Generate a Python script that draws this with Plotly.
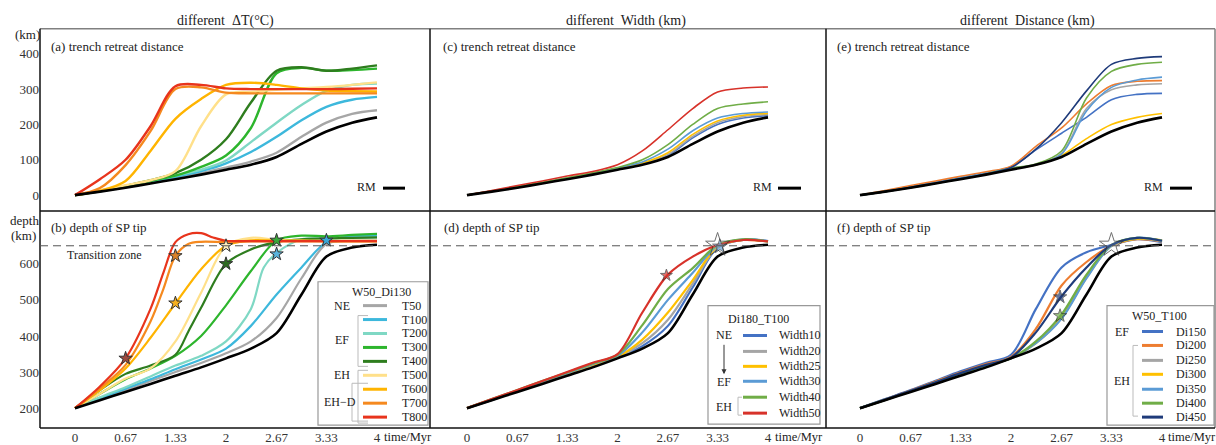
import plotly.graph_objects as go

W, H = 1216, 445
FONT = "'Liberation Serif', 'Times New Roman', 'DejaVu Serif', serif"

# ---------------- data ----------------
T = [0, 0.33, 0.67, 1, 1.33, 1.67, 2, 2.33, 2.67, 3, 3.33, 3.67, 4]

# reference model (black)
rm_retreat = [0, 10, 21, 33, 45, 58, 72, 86, 108, 145, 180, 205, 220]
rm_depth = [200, 222, 245, 267, 290, 313, 338, 365, 408, 515, 620, 645, 653]

# (a) trench retreat, different dT
dT_names = ["T50", "T100", "T200", "T300", "T400", "T500", "T600", "T700", "T800"]
dT_colors = ["#a6a6a6", "#3db8dc", "#7fd8c4", "#2db52d", "#2e7d1e",
             "#ffe08a", "#ffb400", "#f5891f", "#e8341c"]
a_T50 = [0, 11, 23, 36, 49, 62, 78, 95, 120, 165, 205, 230, 240]
a_T100 = [0, 11, 24, 38, 52, 68, 90, 122, 165, 212, 250, 270, 278]
a_T200 = [0, 12, 25, 40, 55, 72, 98, 150, 205, 255, 295, 312, 316]
a_T300 = [0, 12, 26, 40, 55, 80, 112, 190, 345, 360, 352, 354, 358]
a_T400 = [0, 12, 26, 42, 62, 100, 158, 262, 352, 362, 352, 358, 367]
a_T500 = [0, 14, 28, 42, 68, 195, 285, 292, 298, 302, 306, 312, 319]
a_T600 = [0, 12, 40, 125, 216, 272, 312, 318, 312, 302, 296, 294, 293]
a_T700 = [0, 20, 85, 181, 300, 305, 290, 288, 288, 288, 288, 288, 288]
a_T800 = [0, 45, 100, 195, 308, 312, 302, 300, 300, 300, 300, 301, 302]
a_series = [a_T50, a_T100, a_T200, a_T300, a_T400, a_T500, a_T600, a_T700, a_T800]

# (b) depth of SP tip, different dT
b_T50 = [200, 225, 250, 275, 300, 325, 352, 385, 450, 560, 655, 664, 665]
b_T100 = [200, 227, 254, 280, 308, 335, 365, 428, 515, 590, 660, 676, 677]
t_T200 = [0, 0.33, 0.67, 1, 1.33, 1.67, 2, 2.33, 2.5, 2.67, 3, 3.33, 3.67, 4]
b_T200 = [200, 230, 258, 288, 318, 345, 385, 475, 590, 630, 668, 670, 672, 673]
b_T300 = [200, 240, 280, 310, 345, 400, 485, 580, 665, 678, 676, 680, 683]
t_T400 = [0, 0.33, 0.67, 1, 1.33, 1.5, 1.67, 2, 2.33, 2.67, 3, 3.33, 3.67, 4]
b_T400 = [200, 250, 295, 318, 348, 412, 478, 600, 640, 660, 668, 670, 672, 673]
b_T500 = [200, 240, 282, 310, 385, 520, 650, 672, 666, 664, 664, 664, 664]
b_T600 = [200, 250, 310, 395, 490, 585, 650, 665, 664, 664, 663, 663, 663]
t_T700 = [0, 0.33, 0.67, 1, 1.17, 1.33, 1.5, 1.67, 2, 2.33, 2.67, 3, 3.33, 3.67, 4]
b_T700 = [200, 255, 320, 440, 530, 622, 655, 661, 660, 662, 662, 662, 662, 662, 662]
t_T800 = [0, 0.33, 0.67, 1, 1.17, 1.33, 1.5, 1.67, 1.83, 2, 2.33, 2.67, 3, 3.33, 3.67, 4]
b_T800 = [200, 260, 338, 475, 575, 660, 682, 685, 673, 664, 663, 663, 663, 663, 663, 663]
b_times = [T, T, t_T200, T, t_T400, T, T, t_T700, t_T800]
b_series = [b_T50, b_T100, b_T200, b_T300, b_T400, b_T500, b_T600, b_T700, b_T800]
b_star_t = [0.67, 1.33, 1.33, 2, 2, 2.67, 2.67, 3.33]
b_star_d = [338, 622, 491, 650, 600, 665, 627, 665]
b_star_c = ["#9a4a40", "#d9822a", "#f5b020", "#fff0c0", "#2e6b22", "#3aa83a", "#5ab4dc", "#3aa8d8"]

# (c)/(d) different Width
w_names = ["Width10", "Width20", "Width25", "Width30", "Width40", "Width50"]
w_colors = ["#4472c4", "#a5a5a5", "#ffc000", "#5b9bd5", "#70ad47", "#d7322a"]
c_W10 = [0, 11, 22, 34, 46, 60, 75, 88, 112, 162, 200, 218, 225]
c_W20 = [0, 11, 22, 34, 46, 60, 75, 89, 115, 166, 205, 222, 228]
c_W25 = [0, 11, 23, 35, 47, 61, 76, 91, 120, 172, 210, 226, 231]
c_W30 = [0, 11, 23, 35, 48, 62, 77, 94, 130, 182, 218, 231, 235]
c_W40 = [0, 12, 24, 36, 49, 63, 78, 100, 143, 200, 245, 258, 264]
c_W50 = [0, 13, 27, 40, 54, 67, 86, 125, 185, 245, 292, 303, 306]
c_series = [c_W10, c_W20, c_W25, c_W30, c_W40, c_W50]
d_W10 = [200, 223, 247, 270, 294, 318, 340, 372, 428, 535, 645, 666, 663]
d_W20 = [200, 223, 248, 271, 295, 319, 341, 380, 445, 545, 646, 666, 662]
d_W25 = [200, 224, 248, 272, 296, 320, 342, 390, 465, 555, 648, 666, 662]
d_W30 = [200, 224, 249, 273, 297, 322, 345, 410, 500, 575, 650, 668, 663]
d_W40 = [200, 225, 250, 275, 299, 324, 348, 430, 530, 588, 652, 668, 662]
d_W50 = [200, 225, 250, 275, 300, 326, 350, 465, 570, 620, 652, 666, 662]
d_series = [d_W10, d_W20, d_W25, d_W30, d_W40, d_W50]
d_star_t = [2.65, 3.36, 3.33]
d_star_d = [568, 648, 652]

# (e)/(f) different Distance
di_names = ["Di150", "Di200", "Di250", "Di300", "Di350", "Di400", "Di450"]
di_colors = ["#4472c4", "#ed7d31", "#a5a5a5", "#ffc000", "#5b9bd5", "#70ad47", "#1f3b7a"]
e_Di150 = [0, 11, 24, 37, 50, 63, 80, 128, 175, 220, 270, 285, 288]
e_Di200 = [0, 13, 27, 40, 53, 66, 82, 138, 190, 258, 310, 322, 324]
e_Di250 = [0, 10, 22, 35, 48, 61, 76, 86, 118, 245, 298, 312, 315]
e_Di300 = [0, 10, 22, 34, 47, 60, 75, 85, 112, 160, 200, 220, 231]
e_Di350 = [0, 10, 22, 35, 48, 61, 76, 86, 116, 238, 305, 326, 334]
e_Di400 = [0, 10, 21, 33, 46, 60, 76, 88, 125, 275, 350, 370, 376]
e_Di450 = [0, 10, 22, 34, 47, 60, 78, 130, 205, 295, 370, 387, 392]
e_series = [e_Di150, e_Di200, e_Di250, e_Di300, e_Di350, e_Di400, e_Di450]
f_Di150 = [200, 225, 250, 276, 302, 326, 348, 475, 590, 632, 652, 668, 660]
f_Di200 = [200, 224, 249, 274, 299, 322, 342, 420, 540, 605, 650, 668, 662]
f_Di250 = [200, 223, 247, 271, 295, 318, 338, 382, 452, 565, 650, 670, 663]
f_Di300 = [200, 223, 247, 271, 295, 318, 338, 380, 450, 562, 650, 670, 665]
f_Di350 = [200, 223, 247, 271, 295, 318, 338, 380, 448, 560, 650, 672, 664]
f_Di400 = [200, 223, 247, 271, 295, 318, 338, 385, 460, 570, 652, 672, 664]
f_Di450 = [200, 224, 248, 272, 297, 320, 340, 410, 510, 590, 652, 672, 664]
f_series = [f_Di150, f_Di200, f_Di250, f_Di300, f_Di350, f_Di400, f_Di450]
f_star_t = [2.65, 2.65, 3.33]
f_star_d = [508, 456, 652]

x_ticks = [0, 0.67, 1.33, 2, 2.67, 3.33, 4]
x_ticktext = ["0", "0.67", "1.33", "2", "2.67", "3.33", "4"]
ya_ticks = [0, 100, 200, 300, 400]
yb_ticks = [200, 300, 400, 500, 600]
transition_depth = 650

# ---------------- layout helpers ----------------
def px(x):
    return x / W

def py(y):
    return 1 - y / H

fig = go.Figure()

def line(ax, t, v, color, width, name=""):
    fig.add_trace(go.Scatter(x=t, y=v, mode="lines", name=name, showlegend=False,
                             xaxis="x" + ("" if ax == 1 else str(ax)),
                             yaxis="y" + ("" if ax == 1 else str(ax)),
                             line=dict(color=color, width=width, shape="spline", smoothing=0.9),
                             hoverinfo="skip"))

def stars(ax, t, v, colors, size):
    fig.add_trace(go.Scatter(x=t, y=v, mode="markers", showlegend=False,
                             xaxis="x" + str(ax), yaxis="y" + str(ax),
                             marker=dict(symbol="star", size=size, color=colors,
                                         line=dict(color="#333333", width=1)),
                             hoverinfo="skip"))

# panel a (1), c (2), e (3) ; b (4), d (5), f (6)
for s, c in zip(a_series, dT_colors):
    line(1, T, s, c, 2.4)
line(1, T, rm_retreat, "#000000", 2.6)
for tt, s, c in zip(b_times, b_series, dT_colors):
    line(4, tt, s, c, 2.2)
line(4, T, rm_depth, "#000000", 2.6)
stars(4, b_star_t, b_star_d, b_star_c, 10)

for s, c in zip(c_series, w_colors):
    line(2, T, s, c, 1.6)
line(2, T, rm_retreat, "#000000", 2.6)
for s, c in zip(d_series, w_colors):
    line(5, T, s, c, 2.2)
line(5, T, rm_depth, "#000000", 2.6)
stars(5, d_star_t, d_star_d, ["#d7322a", "#5b9bd5", "rgba(255,255,255,0.15)"], [9, 11, 18])

for s, c in zip(e_series, di_colors):
    line(3, T, s, c, 1.6)
line(3, T, rm_retreat, "#000000", 2.6)
for s, c in zip(f_series, di_colors):
    line(6, T, s, c, 2.2)
line(6, T, rm_depth, "#000000", 2.6)
stars(6, f_star_t, f_star_d, ["#1f3b7a", "#70ad47", "rgba(255,255,255,0.15)"], [10, 10, 18])

# axes domains
cols = [(40, 430, 75, 377), (430, 826, 467, 768), (826, 1215, 860, 1162)]
rows = [(29, 212), (212, 430)]
yr_top = [(196 - 212) / 0.355, (196 - 29) / 0.355]
yr_bot = [200 - (430 - 410) / 0.3625, 200 + (410 - 212) / 0.3625]

layout = dict(width=W, height=H, margin=dict(l=0, r=0, t=0, b=0),
              plot_bgcolor="white", paper_bgcolor="white",
              font=dict(family=FONT, size=13, color="#222"), showlegend=False)
tick_font = dict(family=FONT, size=13, color="#333")
for r in range(2):
    for ci in range(3):
        idx = r * 3 + ci + 1
        x0p, x1p, z0, z4 = cols[ci]
        ppu = (z4 - z0) / 4
        xr = [(x0p - z0) / ppu, (x1p - z0) / ppu]
        key = "" if idx == 1 else str(idx)
        layout["xaxis" + key] = dict(domain=[px(x0p), px(x1p)], range=xr, anchor="y" + key,
                                     showgrid=False, zeroline=False, showline=False,
                                     tickvals=x_ticks, ticktext=x_ticktext,
                                     showticklabels=(r == 1), ticks="", tickfont=tick_font)
        y0p, y1p = rows[r]
        layout["yaxis" + key] = dict(domain=[py(y1p), py(y0p)],
                                     range=yr_top if r == 0 else yr_bot,
                                     anchor="x" + key, showgrid=False, zeroline=False,
                                     showline=False,
                                     tickvals=ya_ticks if r == 0 else yb_ticks,
                                     showticklabels=(ci == 0), ticks="", tickfont=tick_font)
fig.update_layout(**layout)

shapes = []
def seg(x0, y0, x1, y1, color="#000", width=1.3, dash=None):
    d = dict(type="line", xref="paper", yref="paper", x0=px(x0), y0=py(y0), x1=px(x1), y1=py(y1),
             line=dict(color=color, width=width))
    if dash:
        d["line"]["dash"] = dash
    shapes.append(d)

# frame
seg(40, 29, 1215, 29, "#808080", 1.5)
seg(1215, 29, 1215, 430, "#808080", 1.5)
seg(40, 29, 40, 430, "#111", 1.5)
seg(430, 29, 430, 430, "#111", 1.5)
seg(826, 29, 826, 430, "#111", 1.5)
seg(40, 212, 1215, 212, "#111", 1.5)
seg(40, 430, 1215, 430, "#111", 1.5)

# transition zone dashed lines
for k in (4, 5, 6):
    shapes.append(dict(type="line", xref="x%d domain" % k, yref="y%d" % k, x0=0, x1=1,
                       y0=transition_depth, y1=transition_depth,
                       line=dict(color="#555", width=1, dash="8px,5px")))

annotations = []
def txt(x, y, s, size=13, anchor="center", color="#222"):
    annotations.append(dict(x=px(x), y=py(y), xref="paper", yref="paper", text=s, showarrow=False,
                            xanchor=anchor, yanchor="middle", font=dict(family=FONT, size=size, color=color)))

# titles
txt(225, 21, "different  ΔT(°C)", 14)
txt(626, 21, "different  Width (km)", 14)
txt(1027, 21, "different  Distance (km)", 14)
txt(27, 35, "(km)", 13)
txt(24, 221, "depth", 13)
txt(23, 237, "(km)", 13)

# panel labels
txt(49, 47, "(a) trench retreat distance", 13, "left")
txt(49, 229, "(b) depth of SP tip", 13, "left")
txt(441, 47, "(c) trench retreat distance", 13, "left")
txt(442, 229, "(d) depth of SP tip", 13, "left")
txt(835, 47, "(e) trench retreat distance", 13, "left")
txt(835, 229, "(f) depth of SP tip", 13, "left")
txt(104, 256, "Transition zone", 12)

# time label
for xx in (382, 773, 1166):
    txt(xx, 439, "time/Myr", 12.5, "left")

# RM legends
for (tx, l0, l1) in [(366, 383, 405), (762, 778, 801), (1153, 1170, 1192)]:
    txt(tx, 188, "RM", 12)
    seg(l0, 189, l1, 189, "#000", 3)

# legend box b
shapes.append(dict(type="rect", xref="paper", yref="paper", x0=px(318), x1=px(428), y0=py(427), y1=py(283),
                   line=dict(color="#999", width=1.2), fillcolor="white"))
txt(381, 293, "W50_Di130", 12)
rows_b = [307, 321, 335, 349, 363, 377, 391, 405, 419]
for yy, nm, c in zip(rows_b, dT_names, dT_colors):
    seg(363, yy, 387, yy, c, 3)
    txt(400, yy, nm, 12, "left")
txt(342, 307, "NE", 12)
txt(342, 342, "EF", 12)
txt(342, 377, "EH", 12)
txt(340, 404, "EH−D", 12)
gb = "#bbbbbb"
seg(358, 317, 358, 368, gb, 1)
seg(358, 317, 368, 317, gb, 1)
seg(358, 368, 368, 368, gb, 1)
seg(358, 372, 358, 425, gb, 1)
seg(358, 372, 368, 372, gb, 1)
seg(358, 425, 368, 425, gb, 1)
seg(352, 385, 352, 423, gb, 1)
seg(352, 385, 368, 385, gb, 1)
seg(352, 423, 368, 423, gb, 1)

# legend box d
shapes.append(dict(type="rect", xref="paper", yref="paper", x0=px(708), x1=px(820), y0=py(426), y1=py(307),
                   line=dict(color="#999", width=1.2), fillcolor="white"))
txt(758, 320, "Di180_T100", 12)
rows_d = [337, 353, 368, 383, 399, 415]
for yy, nm, c in zip(rows_d, w_names, w_colors):
    seg(743, yy, 767, yy, c, 3)
    txt(777, yy, nm, 12, "left")
txt(724, 337, "NE", 12)
txt(724, 384, "EF", 12)
txt(724, 409, "EH", 12)
annotations.append(dict(x=px(724), y=py(376), ax=0, ay=-31, xref="paper", yref="paper",
                        axref="pixel", ayref="pixel", showarrow=True, arrowhead=2, arrowsize=1,
                        arrowwidth=1, arrowcolor="#333", text=""))
seg(738, 399, 738, 417, gb, 1)
seg(738, 399, 742, 399, gb, 1)
seg(738, 417, 742, 417, gb, 1)

# legend box f
shapes.append(dict(type="rect", xref="paper", yref="paper", x0=px(1107), x1=px(1214), y0=py(427), y1=py(307),
                   line=dict(color="#999", width=1.2), fillcolor="white"))
txt(1159, 317, "W50_T100", 12)
rows_f = [333, 347, 362, 376, 391, 405, 419]
for yy, nm, c in zip(rows_f, di_names, di_colors):
    seg(1142, yy, 1163, yy, c, 3)
    txt(1174, yy, nm, 12, "left")
txt(1122, 333, "EF", 12)
txt(1122, 383, "EH", 12)
seg(1133, 347, 1133, 418, gb, 1)
seg(1133, 347, 1138, 347, gb, 1)
seg(1133, 418, 1138, 418, gb, 1)

fig.update_layout(shapes=shapes, annotations=annotations)
fig.write_html("out.html")
